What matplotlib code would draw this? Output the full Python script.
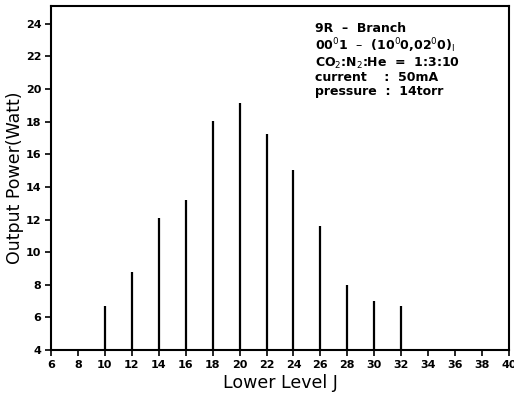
import matplotlib
matplotlib.use("Agg")
import matplotlib.pyplot as plt

J = [10, 12, 14, 16, 18, 20, 22, 24, 26, 28, 30, 32]
power = [6.7, 8.8, 12.1, 13.2, 18.05, 19.15, 17.25, 15.05, 11.6, 8.0, 7.0, 6.7]
xticks = list(range(6, 41, 2))
yticks = list(range(4, 25, 2))

fig = plt.figure(figsize=(5.14, 3.96), dpi=100)
ax = fig.add_axes([0.0992, 0.116, 0.891, 0.869])
ax.vlines(J, 4, power, colors="black", linewidth=1.6)
ax.set_xlim(6, 40)
ax.set_ylim(4, 25.1)
ax.set_xticks(xticks)
ax.set_yticks(yticks)
ax.set_xticklabels([str(v) for v in xticks], fontsize=8, fontweight="bold")
ax.set_yticklabels([str(v) for v in yticks], fontsize=8, fontweight="bold")
ax.tick_params(direction="out", length=4, width=1.2, pad=3)
for s in ax.spines.values():
    s.set_linewidth(1.5)
ax.set_xlabel("Lower Level J", fontsize=12.5, labelpad=3)
ax.set_ylabel("Output Power(Watt)", fontsize=12.5, labelpad=1)

lines = [
    "9R  –  Branch",
    "00$^0$1  –  (10$^0$0,02$^0$0)$_{\\rm I}$",
    "CO$_2$:N$_2$:He  =  1:3:10",
    "current    :  50mA",
    "pressure  :  14torr",
]
ax.text(0.576, 0.953, "\n".join(lines), transform=ax.transAxes, fontsize=9,
        fontweight="bold", va="top", ha="left", linespacing=1.07)

fig.savefig("out.png", dpi=100)
